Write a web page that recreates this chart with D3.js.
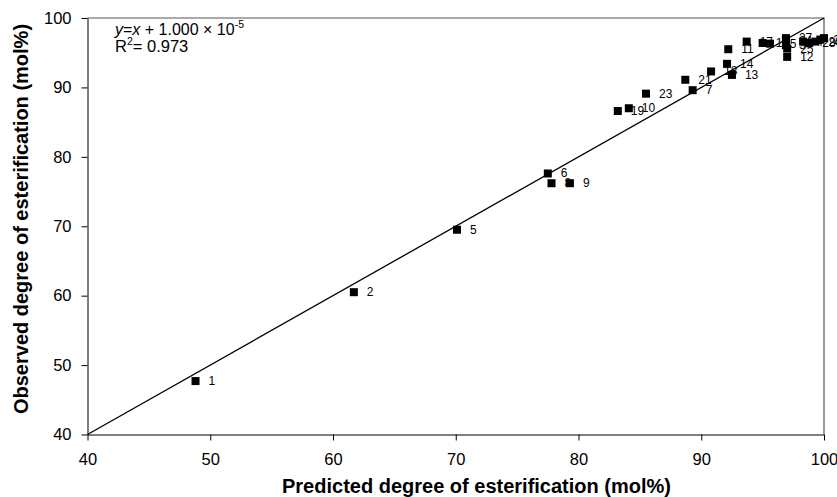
<!DOCTYPE html>
<html>
<head>
<meta charset="utf-8">
<script src="https://cdn.jsdelivr.net/npm/d3@7"></script>
<style>
  body { margin: 0; background: #fff; }
  svg { display: block; font-family: "Liberation Sans", Arial, sans-serif; }
  .axis text { font-size: 16.5px; fill: #000; }
  .axis line, .axis path { stroke: #000; }
  .lbl { font-size: 12px; fill: #000; }
  .title { font-size: 20px; font-weight: bold; }
</style>
</head>
<body>
<div id="chart"></div>
<script>
// sample numbers and their predicted / observed degree of esterification
const labels    = ["1", "2", "3", "4", "5", "6", "7", "8", "9", "10", "11", "12", "13", "14",
                   "15", "16", "17", "18", "19", "20", "21", "22", "23", "24", "25", "26", "27", "28"];
const predicted = [48.8, 61.7, 96.9, 98.3, 70.1, 77.5, 89.3, 77.8, 79.3, 84.1, 92.2, 97.0, 92.5, 92.1,
                   95.6, 95.0, 93.7, 90.8, 83.2, 99.3, 88.7, 100.0, 85.5, 96.9, 97.0, 99.7, 96.9, 98.8];
const observed  = [47.7, 60.5, 96.1, 96.6, 69.5, 77.6, 89.6, 76.2, 76.2, 87.0, 95.5, 94.4, 91.8, 93.4,
                   96.3, 96.4, 96.6, 92.3, 86.6, 96.6, 91.1, 97.1, 89.1, 96.7, 95.6, 96.9, 97.1, 96.4];
const ticks = [40, 50, 60, 70, 80, 90, 100];

const width = 837, height = 497;
const marginLeft = 87.5, marginRight = 13, marginTop = 18, marginBottom = 62.5;
const points = labels.map((l, i) => ({label: l, x: predicted[i], y: observed[i]}));

const svg = d3.select('#chart').append('svg')
    .attr('width', width)
    .attr('height', height);

const xScale = d3.scaleLinear().domain([40, 100]).range([marginLeft, width - marginRight]);
const yScale = d3.scaleLinear().domain([40, 100]).range([height - marginBottom, marginTop]);

// frame top and right
svg.append('path')
    .attr('d', `M${xScale(40)},${yScale(100)}H${xScale(100)}V${yScale(40)}`)
    .attr('fill', 'none')
    .attr('stroke', '#555')
    .attr('stroke-width', 1.2);

svg.append('g')
    .attr('class', 'axis')
    .attr('transform', `translate(0,${yScale(40)})`)
    .call(d3.axisBottom(xScale).tickValues(ticks).tickSize(6).tickSizeOuter(0).tickPadding(12.5))
    .selectAll('text').attr('font-family', null);

svg.append('g')
    .attr('class', 'axis')
    .attr('transform', `translate(${xScale(40)},0)`)
    .call(d3.axisLeft(yScale).tickValues(ticks).tickSize(6).tickSizeOuter(0).tickPadding(10))
    .selectAll('text').attr('font-family', null);

svg.selectAll('.axis text').attr('font-size', null);

// fitted line y = x + 1e-5
svg.append('line')
    .attr('x1', xScale(40)).attr('y1', yScale(40))
    .attr('x2', xScale(100)).attr('y2', yScale(100))
    .attr('stroke', '#000')
    .attr('stroke-width', 1.3);

// point labels drawn first so markers cover them
svg.selectAll('.lbl').data(points).enter().append('text')
    .attr('class', 'lbl')
    .attr('x', d => xScale(d.x) + 13)
    .attr('y', d => yScale(d.y) + 4)
    .text(d => d.label);

const s = 8;
svg.selectAll('.pt').data(points).enter().append('rect')
    .attr('class', 'pt')
    .attr('x', d => xScale(d.x) - s / 2)
    .attr('y', d => yScale(d.y) - s / 2)
    .attr('width', s)
    .attr('height', s)
    .attr('fill', '#000');

// equation
const eq = svg.append('text').attr('x', 115).attr('y', 35).style('font-size', '16px');
eq.append('tspan').style('font-style', 'italic').text('y');
eq.append('tspan').text('=');
eq.append('tspan').style('font-style', 'italic').text('x');
eq.append('tspan').text(' + 1.000 × 10');
eq.append('tspan').attr('dy', -7).style('font-size', '10.5px').text('-5');

const r2 = svg.append('text').attr('x', 115).attr('y', 52).style('font-size', '16.5px');
r2.append('tspan').text('R');
r2.append('tspan').attr('dy', -7).style('font-size', '10.5px').text('2');
r2.append('tspan').attr('dy', 7).text('= 0.973');

// axis titles
svg.append('text')
    .attr('class', 'title')
    .attr('x', 476.5)
    .attr('y', 493)
    .attr('text-anchor', 'middle')
    .text('Predicted degree of esterification (mol%)');

svg.append('text')
    .attr('class', 'title')
    .attr('transform', 'translate(28,219) rotate(-90)')
    .attr('text-anchor', 'middle')
    .text('Observed degree of esterification (mol%)');
</script>
</body>
</html>
